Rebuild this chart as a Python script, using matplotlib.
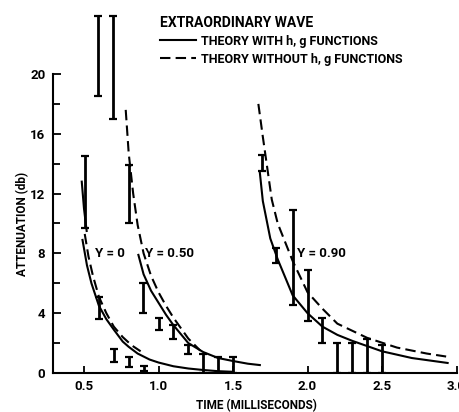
import matplotlib
matplotlib.use("Agg")
import matplotlib.pyplot as plt
from matplotlib.lines import Line2D

plt.rcParams['font.family'] = ['Roboto', 'Liberation Sans', 'DejaVu Sans']
plt.rcParams['font.weight'] = 'bold'
plt.rcParams['axes.labelweight'] = 'bold'
plt.rcParams['font.size'] = 9

# theory curves (time in ms, attenuation in db)
y0_solid_t = [0.49, 0.52, 0.55, 0.60, 0.65, 0.70, 0.76, 0.80, 0.86, 0.94, 1.00, 1.10, 1.20, 1.30, 1.40, 1.50]
y0_solid_v = [8.9, 7.2, 6.0, 4.5, 3.6, 2.9, 2.1, 1.75, 1.3, 0.9, 0.7, 0.45, 0.3, 0.2, 0.12, 0.08]
y0_dash_t = [0.505, 0.53, 0.56, 0.60, 0.65, 0.70, 0.76, 0.82, 0.88]
y0_dash_v = [9.3, 7.8, 6.5, 5.1, 4.0, 3.1, 2.4, 1.85, 1.45]
y0_steep_t = [0.485, 0.50, 0.518]
y0_steep_v = [12.8, 11.0, 9.5]

y50_solid_t = [0.865, 0.90, 0.95, 1.00, 1.05, 1.10, 1.20, 1.30, 1.40, 1.50, 1.60, 1.68]
y50_solid_v = [7.9, 6.6, 5.5, 4.7, 3.9, 3.2, 2.0, 1.4, 1.0, 0.8, 0.62, 0.53]
y50_dash_t = [0.78, 0.80, 0.83, 0.86, 0.90, 0.95, 1.00, 1.05, 1.10, 1.20, 1.28]
y50_dash_v = [17.6, 14.7, 12.0, 9.9, 8.0, 6.5, 5.4, 4.5, 3.7, 2.3, 1.5]

y90_solid_t = [1.68, 1.70, 1.75, 1.80, 1.90, 2.00, 2.10, 2.20, 2.30, 2.50, 2.70, 2.94]
y90_solid_v = [13.4, 11.5, 9.0, 7.6, 5.2, 4.0, 3.1, 2.55, 2.15, 1.45, 1.0, 0.67]
y90_dash_t = [1.67, 1.70, 1.76, 1.80, 1.90, 2.00, 2.10, 2.20, 2.40, 2.60, 2.80, 2.93]
y90_dash_v = [18.0, 15.8, 11.6, 10.0, 7.5, 5.4, 4.3, 3.3, 2.35, 1.7, 1.3, 1.1]

# measured ranges
bar_t = [0.505, 0.596, 0.603, 0.695, 0.70, 0.80, 0.90,
         0.802, 0.898, 1.00, 1.10, 1.20, 1.297, 1.397, 1.50,
         1.693, 1.79, 1.90, 2.00, 2.10, 2.20, 2.30, 2.40, 2.50]
bar_lo = [9.7, 18.5, 3.6, 17.0, 0.76, 0.38, 0.15,
          10.0, 4.0, 2.9, 2.3, 1.3, 0.0, 0.0, 0.0,
          13.5, 7.35, 4.55, 3.45, 2.0, 0.0, 0.0, 0.0, 0.0]
bar_hi = [14.5, 23.9, 5.1, 23.9, 1.6, 1.05, 0.5,
          13.9, 6.0, 3.65, 3.2, 1.85, 1.27, 1.1, 1.1,
          14.6, 8.35, 10.9, 6.9, 3.65, 2.0, 2.0, 2.25, 1.9]

curve_labels = ['Y = 0', 'Y = 0.50', 'Y = 0.90']
curve_label_t = [0.673, 1.077, 2.09]

x_ticks = [0.5, 1.0, 1.5, 2.0, 2.5, 3.0]
x_labels = ['0.5', '1.0', '1.5', '2.0', '2.5', '3.0']
y_ticks = [0, 4, 8, 12, 16, 20]
y_minor = [2, 6, 10, 14, 18]

fig = plt.figure(figsize=(4.6, 4.12), dpi=100)
ax = fig.add_axes([0.1152, 0.0947, 0.8848, 0.9053])

lw = 1.5
dash = (0, (5, 2.5))
ax.plot(y0_solid_t, y0_solid_v, color='black', lw=lw)
ax.plot(y0_dash_t, y0_dash_v, color='black', lw=lw, ls=dash)
ax.plot(y0_steep_t, y0_steep_v, color='black', lw=lw)
ax.plot(y50_solid_t, y50_solid_v, color='black', lw=lw)
ax.plot(y50_dash_t, y50_dash_v, color='black', lw=lw, ls=dash)
ax.plot(y90_solid_t, y90_solid_v, color='black', lw=lw)
ax.plot(y90_dash_t, y90_dash_v, color='black', lw=lw, ls=dash)

ax.vlines(bar_t, bar_lo, bar_hi, color='black', lw=2)
ax.plot(bar_t, bar_lo, ls='none', marker='_', ms=6, mew=1.6, color='black')
ax.plot(bar_t, bar_hi, ls='none', marker='_', ms=6, mew=1.6, color='black')

for lab, t in zip(curve_labels, curve_label_t):
    ax.text(t, 8.0, lab, fontsize=9.5, fontweight='bold', ha='center', va='center')

ax.set_xlim(0.292, 3.023)
ax.set_ylim(0, 24.95)
ax.spines['top'].set_visible(False)
ax.spines['right'].set_visible(False)
ax.spines['left'].set_bounds(0, 20)
ax.spines['bottom'].set_bounds(0.292, 3.0)
ax.spines['left'].set_linewidth(1.5)
ax.spines['bottom'].set_linewidth(1.5)

ax.set_xticks(x_ticks)
ax.set_xticklabels(x_labels)
ax.set_yticks(y_ticks)
ax.set_yticks(y_minor, minor=True)
ax.tick_params(axis='both', which='both', direction='in', width=1.3, labelsize=9.5)
ax.tick_params(axis='y', which='major', length=6, pad=5.5)
ax.tick_params(axis='y', which='minor', length=5)
ax.tick_params(axis='x', which='major', length=5, pad=5)
for lab in ax.get_xticklabels() + ax.get_yticklabels():
    lab.set_fontweight('bold')

ax.text(-0.075, 10, 'ATTENUATION (db)', rotation=90, fontsize=8.5, fontweight='bold',
        ha='center', va='center', transform=ax.get_yaxis_transform())
ax.set_xlabel('TIME (MILLISECONDS)', fontsize=8.5, fontweight='bold', labelpad=4)

handles = [Line2D([], [], color='black', lw=lw),
           Line2D([], [], color='black', lw=lw, ls=dash)]
leg = ax.legend(handles, ['THEORY WITH h, g FUNCTIONS', 'THEORY WITHOUT h, g FUNCTIONS'],
                title='EXTRAORDINARY WAVE', loc='upper left', bbox_to_anchor=(0.263, 0.958),
                frameon=False, handlelength=2.9, title_fontsize=10, fontsize=9,
                handletextpad=0.4, labelspacing=0.4, borderpad=0, borderaxespad=0)
leg.get_title().set_fontweight('bold')
for txt in leg.get_texts():
    txt.set_fontweight('bold')
leg._legend_box.align = 'left'

fig.savefig('out.png', dpi=100)
